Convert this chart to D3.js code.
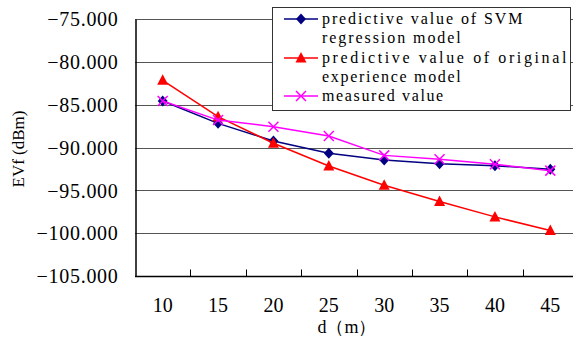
<!DOCTYPE html>
<html>
<head>
<meta charset="utf-8">
<script src="https://cdn.jsdelivr.net/npm/d3@7"></script>
<style>
  html, body { margin: 0; padding: 0; background: #fff; }
  svg { display: block; }
</style>
</head>
<body>
<div id="chart"></div>
<script>
const distances = ["10", "15", "20", "25", "30", "35", "40", "45"];
const svmValues = [-84.57, -87.18, -89.24, -90.68, -91.46, -91.89, -92.12, -92.55];
const originalValues = [-82.16, -86.40, -89.50, -92.16, -94.40, -96.30, -98.10, -99.70];
const measuredValues = [-84.57, -86.80, -87.57, -88.66, -90.92, -91.38, -91.96, -92.70];
const yTicks = [-75, -80, -85, -90, -95, -100, -105];
const legendLabels = [
  ["predictive value of SVM", "regression model"],
  ["predictive value of original", "experience model"],
  ["measured value"]
];

const width = 573, height = 338;
const margin = { top: 19, right: -5, bottom: 62, left: 135 };
const SERIF = '"Liberation Serif"';

const svg = d3.select("#chart").append("svg")
  .attr("width", width)
  .attr("height", height);

const x = d3.scaleBand()
  .domain(distances)
  .range([margin.left, width - margin.right])
  .padding(0);

const y = d3.scaleLinear()
  .domain([-105, -75])
  .range([height - margin.bottom, margin.top]);

// gridlines
svg.append("g")
  .selectAll("line")
  .data(yTicks)
  .join("line")
  .attr("x1", margin.left)
  .attr("x2", width - margin.right)
  .attr("y1", d => Math.round(y(d)) + 0.5)
  .attr("y2", d => Math.round(y(d)) + 0.5)
  .attr("stroke", "#555")
  .attr("stroke-width", 1);

// y axis
const yAxis = svg.append("g")
  .attr("transform", `translate(${margin.left + 0.5},0)`)
  .call(d3.axisLeft(y).tickValues(yTicks).tickSize(0).tickPadding(17)
    .tickFormat(d => d3.format(".3f")(d).replace("-", "\u2212")));
yAxis.attr("font-family", null).attr("font-size", null);
yAxis.select(".domain").attr("stroke", "#000").attr("stroke-width", 1.5);
yAxis.selectAll("text")
  .style("font-family", SERIF)
  .style("font-size", "20px")
  .style("letter-spacing", "0.7px")
  .attr("dy", "0.34em")
  .attr("fill", "#000");

// x axis: ticks at band boundaries
const xAxisY = Math.round(y(-105)) + 0.5;
svg.append("line")
  .attr("x1", margin.left).attr("x2", width)
  .attr("y1", xAxisY).attr("y2", xAxisY)
  .attr("stroke", "#000").attr("stroke-width", 1.5);
svg.append("g")
  .selectAll("line")
  .data(distances.slice(1))
  .join("line")
  .attr("x1", d => Math.round(x(d)) + 0.5)
  .attr("x2", d => Math.round(x(d)) + 0.5)
  .attr("y1", xAxisY)
  .attr("y2", xAxisY - 7)
  .attr("stroke", "#000");
svg.append("g")
  .selectAll("text")
  .data(distances)
  .join("text")
  .attr("x", d => x(d) + x.bandwidth() / 2)
  .attr("y", 312)
  .attr("text-anchor", "middle")
  .style("font-family", SERIF)
  .style("font-size", "20px")
  .text(d => d);

// axis titles
svg.append("text")
  .attr("transform", "translate(24,149) rotate(-90)")
  .attr("text-anchor", "middle")
  .style("font-family", SERIF)
  .style("font-size", "17px")
  .text("EVf (dBm)");
svg.append("text")
  .attr("x", 347)
  .attr("y", 333)
  .attr("text-anchor", "middle")
  .style("font-family", SERIF)
  .style("font-size", "18px")
  .text("d（m）");

const cx = d => x(d) + x.bandwidth() / 2;

const series = [
  { values: svmValues, color: "#000080", marker: "diamond" },
  { values: originalValues, color: "#FF0000", marker: "triangle" },
  { values: measuredValues, color: "#FF00FF", marker: "cross" }
];

function drawMarker(g, type, color) {
  if (type === "diamond") {
    g.append("path").attr("d", "M0,-5.5L5,0L0,5.5L-5,0Z").attr("fill", color);
  } else if (type === "triangle") {
    g.append("path").attr("d", "M0,-6L5.5,4.5L-5.5,4.5Z").attr("fill", color);
  } else {
    g.append("path").attr("d", "M-5,-5L5,5M-5,5L5,-5")
      .attr("stroke", color).attr("stroke-width", 1.5).attr("fill", "none");
  }
}

series.forEach(s => {
  const pts = distances.map((d, i) => ({ d, v: s.values[i] }));
  svg.append("path")
    .datum(pts)
    .attr("fill", "none")
    .attr("stroke", s.color)
    .attr("stroke-width", 1.5)
    .attr("d", d3.line().x(p => cx(p.d)).y(p => y(p.v)));
  pts.forEach(p => {
    const g = svg.append("g").attr("transform", `translate(${cx(p.d)},${y(p.v)})`);
    drawMarker(g, s.marker, s.color);
  });
});

// legend
const legend = svg.append("g");
legend.append("rect")
  .attr("x", 272.5).attr("y", 7.5)
  .attr("width", 298).attr("height", 103)
  .attr("fill", "#fff")
  .attr("stroke", "#333").attr("stroke-width", 1);

// SimSun-like fixed pitch: spread the serif text to 8.8px per character
const charW = 8.8;
const rowY = [19, 58, 96];
series.forEach((s, i) => {
  const ly = rowY[i];
  legend.append("line")
    .attr("x1", 284).attr("x2", 318)
    .attr("y1", ly).attr("y2", ly)
    .attr("stroke", s.color).attr("stroke-width", 1.5);
  drawMarker(legend.append("g").attr("transform", `translate(301,${ly})`), s.marker, s.color);
  legendLabels[i].forEach((t, j) => {
    legend.append("text")
      .attr("x", 322)
      .attr("y", ly + 5 + j * 19)
      .attr("textLength", t.length * charW - 2)
      .attr("lengthAdjust", "spacing")
      .style("font-family", SERIF)
      .style("font-size", "16px")
      .attr("fill", "#000")
      .text(t);
  });
});
</script>
</body>
</html>
